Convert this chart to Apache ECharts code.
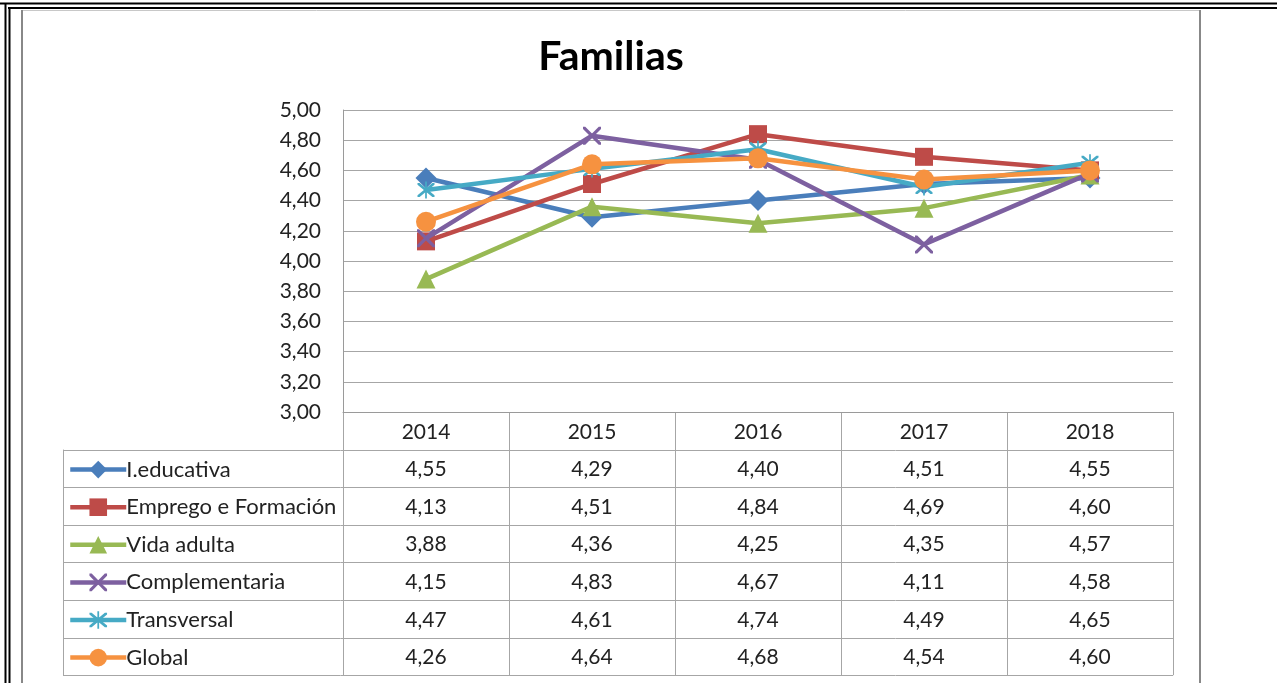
<!DOCTYPE html>
<html><head><meta charset="utf-8">
<script src="https://cdn.jsdelivr.net/npm/echarts@6/dist/echarts.min.js"></script>
<style>html,body{margin:0;padding:0;background:#fff;}#c{width:1277px;height:683px;}</style>
</head><body><div id="c"></div>
<script>
var title = 'Familias';
var years = ['2014', '2015', '2016', '2017', '2018'];
var seriesNames = ['I.educativa', 'Emprego e Formación', 'Vida adulta', 'Complementaria', 'Transversal', 'Global'];
var ieducativa = [4.55, 4.29, 4.40, 4.51, 4.55];
var emprego = [4.13, 4.51, 4.84, 4.69, 4.60];
var vidaAdulta = [3.88, 4.36, 4.25, 4.35, 4.57];
var complementaria = [4.15, 4.83, 4.67, 4.11, 4.58];
var transversal = [4.47, 4.61, 4.74, 4.49, 4.65];
var global = [4.26, 4.64, 4.68, 4.54, 4.60];
var yTicks = [3.0, 3.2, 3.4, 3.6, 3.8, 4.0, 4.2, 4.4, 4.6, 4.8, 5.0];

var allData = [ieducativa, emprego, vidaAdulta, complementaria, transversal, global];
var colors = ['#4A7EBB', '#BE4B48', '#98B954', '#7D60A0', '#46AAC5', '#F69240'];
var X_PATH = 'path://M0,0L2.5,0L10,7.5L17.5,0L20,0L20,2.5L12.5,10L20,17.5L20,20L17.5,20L10,12.5L2.5,20L0,20L0,17.5L7.5,10L0,2.5Z';
var STAR_PATH = 'path://M0,0L2.5,0L10,7.5L17.5,0L20,0L20,2.5L12.5,10L20,17.5L20,20L17.5,20L10,12.5L2.5,20L0,20L0,17.5L7.5,10L0,2.5ZM9,-2L11,-2L11,22L9,22Z';
var symbols = ['diamond', 'rect', 'triangle', X_PATH, STAR_PATH, 'circle'];
var symSizes = [21, 18, 19, 18, 17, 20];
var FONT = 'Lato, "Open Sans", sans-serif';
var FS = 21;
function fmt(v) { return v.toFixed(2).replace('.', ','); }

var chart = echarts.init(document.getElementById('c'), null, {renderer: 'canvas'});
var gridL = 343, gridR = 1173, gridT = 110, gridB = 412;
var rowH = 37.6;
var tableBottom = gridB + rowH * 7;

var series = seriesNames.map(function (n, i) {
  return {
    name: n, type: 'line', data: allData[i],
    symbol: symbols[i], symbolSize: symSizes[i],
    lineStyle: {width: 4.5, color: colors[i]},
    itemStyle: {color: colors[i], opacity: 1},
    emphasis: {disabled: true},
    animation: false, z: 2 + i
  };
});

chart.setOption({
  animation: false,
  backgroundColor: '#fff',
  title: {text: title, left: 606, top: 31, textAlign: 'center',
    textStyle: {fontFamily: FONT, fontWeight: 'bold', fontSize: 41, color: '#000'}},
  grid: {left: gridL, right: 1277 - gridR, top: gridT, bottom: 683 - gridB},
  xAxis: {type: 'category', data: years, boundaryGap: true,
    axisLine: {show: true, lineStyle: {color: '#9a9a9a', width: 1}},
    axisTick: {show: false}, axisLabel: {show: false}, splitLine: {show: false}},
  yAxis: {type: 'value', min: 3, max: 5, interval: 0.2,
    axisLine: {show: true, lineStyle: {color: '#9a9a9a', width: 1}},
    axisTick: {show: false},
    axisLabel: {fontFamily: FONT, fontSize: FS, color: '#222', margin: 22,
      formatter: function (v) { return fmt(v); }},
    splitLine: {lineStyle: {color: '#a6a6a6', width: 1}}},
  legend: {show: true, orient: 'vertical', left: 63, top: gridB + rowH + 4,
    itemGap: rowH - 22, itemWidth: 56, itemHeight: 22,
    selectedMode: false,
    lineStyle: {width: 4.5},
    textStyle: {fontFamily: FONT, fontSize: 22, color: '#222', padding: [0, 0, 0, -5]},
    data: seriesNames},
  series: series
});

// table drawn from data arrays, positioned via the chart's own axis scale
var g = [];
var lineStyle = {stroke: '#a6a6a6', lineWidth: 1};
var xs = years.map(function (y, i) { return chart.convertToPixel({xAxisIndex: 0}, y); });
var colW = xs[1] - xs[0];
var left0 = xs[0] - colW / 2;
var right0 = xs[xs.length - 1] + colW / 2;
for (var i = 0; i <= years.length; i++) {
  var x = Math.round(left0 + i * colW) + 0.5;
  g.push({type: 'line', shape: {x1: x, y1: gridB, x2: x, y2: tableBottom}, style: lineStyle, silent: true});
}
g.push({type: 'line', shape: {x1: 63.5, y1: gridB + rowH, x2: 63.5, y2: tableBottom}, style: lineStyle, silent: true});
for (var r = 1; r <= 7; r++) {
  var y = Math.round(gridB + r * rowH) + 0.5;
  g.push({type: 'line', shape: {x1: 63, y1: y, x2: right0, y2: y}, style: lineStyle, silent: true});
}
years.forEach(function (yv, i) {
  g.push({type: 'text', x: xs[i], y: gridB + rowH / 2 + 1, silent: true,
    style: {text: yv, fontFamily: FONT, fontSize: FS, fill: '#222', align: 'center', verticalAlign: 'middle'}});
});
allData.forEach(function (arr, r) {
  arr.forEach(function (v, i) {
    g.push({type: 'text', x: xs[i], y: gridB + rowH * (r + 1.5) + 1, silent: true,
      style: {text: fmt(v), fontFamily: FONT, fontSize: FS, fill: '#222', align: 'center', verticalAlign: 'middle'}});
  });
});
// frame
g.push({type: 'line', shape: {x1: 0, y1: 3.5, x2: 1277, y2: 3.5}, style: {stroke: '#000', lineWidth: 2}, silent: true});
g.push({type: 'line', shape: {x1: 8, y1: 8, x2: 1277, y2: 8}, style: {stroke: '#000', lineWidth: 2}, silent: true});
g.push({type: 'line', shape: {x1: 5.5, y1: 3, x2: 5.5, y2: 683}, style: {stroke: '#000', lineWidth: 2}, silent: true});
g.push({type: 'line', shape: {x1: 9.5, y1: 8, x2: 9.5, y2: 683}, style: {stroke: '#000', lineWidth: 2}, silent: true});
g.push({type: 'line', shape: {x1: 22, y1: 10.5, x2: 1200, y2: 10.5}, style: {stroke: '#c8c8c8', lineWidth: 1}, silent: true});
g.push({type: 'line', shape: {x1: 22, y1: 10, x2: 22, y2: 683}, style: {stroke: '#888', lineWidth: 2}, silent: true});
g.push({type: 'line', shape: {x1: 1200, y1: 10, x2: 1200, y2: 683}, style: {stroke: '#888', lineWidth: 2}, silent: true});

chart.setOption({graphic: g});
</script></body></html>
